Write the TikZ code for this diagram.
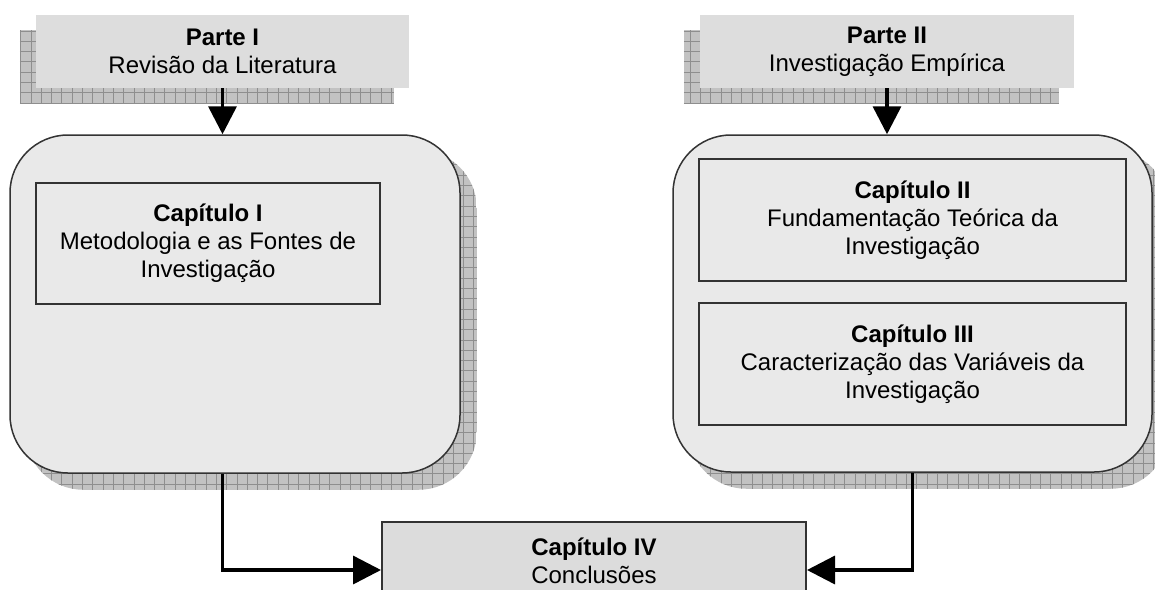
\documentclass[tikz,border=0pt]{standalone}
\usepackage{fontspec}
\setmainfont{Liberation Sans}
\usepackage{tikz}
\usetikzlibrary{arrows.meta, backgrounds, positioning}
\tikzset{>={Triangle[width=28pt,length=28pt]}}
\definecolor{partecor}{HTML}{DDDDDD}
\definecolor{blococor}{HTML}{E9E9E9}
\definecolor{capcor}{HTML}{DCDCDC}
\definecolor{bordacor}{HTML}{333333}
\definecolor{sombracor}{HTML}{C2C2C2}
\definecolor{gradecor}{HTML}{8E8E8E}
% sombra quadriculada: #1 raio, #2 e #3 cantos
\newcommand{\gradesombra}[3]{%
  \begin{scope}
    \path[clip, rounded corners=#1] (#2) rectangle (#3);
    \fill[sombracor] (#2) rectangle (#3);
    \draw[gradecor, line width=0.8pt, step=10.3pt] (#2) grid (#3);
  \end{scope}}

\begin{document}
\begin{tikzpicture}[x=1pt, y=-1pt, font=\fontsize{24}{28}\selectfont,
    parte/.style={fill=partecor, inner sep=0pt, align=center, minimum height=73pt},
    bloco/.style={fill=blococor, draw=bordacor, line width=1.5pt, rounded corners=58pt, inner sep=0pt},
    capitulo/.style={draw=bordacor, line width=2pt, inner sep=0pt, align=center},
    seta/.style={->, line width=3.5pt}]
    \path[use as bounding box, clip] (0,0) rectangle (1155,589);

    \node (parteI) at (222.5,51.5) [parte, minimum width=373pt]{\textbf{Parte I}\\Revisão da Literatura};
    \node (parteII) at (887,51.5) [parte, minimum width=374pt]{\textbf{Parte II}\\Investigação Empírica};

    \node (blocoI) at (235,304) [bloco, minimum width=450pt, minimum height=338pt]{};
    \node (blocoII) at (912.5,303.5) [bloco, minimum width=479pt, minimum height=337pt]{};

    \node (capI) at (208,243.5) [capitulo, minimum width=344pt, minimum height=121pt]{\textbf{Capítulo I}\\Metodologia e as Fontes de\\Investigação};
    \node (capII) at (912.5,220) [capitulo, minimum width=427pt, minimum height=122pt]{\textbf{Capítulo II}\\Fundamentação Teórica da\\Investigação};
    \node (capIII) at (912.5,364) [capitulo, minimum width=427pt, minimum height=122pt]{\textbf{Capítulo III}\\Caracterização das Variáveis da\\Investigação};
    \node (capIV) at (594,561) [capitulo, fill=capcor, minimum width=424pt, minimum height=78pt]{\textbf{Capítulo IV}\\Conclusões};

    \draw [seta](parteI.south)--(parteI.south |- blocoI.north);
    \draw [seta](parteII.south)--(parteII.south |- blocoII.north);
    \draw [seta](parteI.south |- blocoI.south) |- ([yshift=-9pt]capIV.west);
    \draw [seta](blocoII.south) |- ([yshift=-9pt]capIV.east);

    \begin{scope}[on background layer]
      \gradesombra{0pt}{[xshift=-16pt,yshift=-15pt]parteI.north west}{[xshift=-15pt,yshift=-15pt]parteI.south east}
      \gradesombra{0pt}{[xshift=-16pt,yshift=-15pt]parteII.north west}{[xshift=-15pt,yshift=-15pt]parteII.south east}
      \gradesombra{58pt}{[xshift=16pt,yshift=-16pt]blocoI.north west}{[xshift=16pt,yshift=-16pt]blocoI.south east}
      \gradesombra{58pt}{[xshift=16pt,yshift=-16pt]blocoII.north west}{[xshift=16pt,yshift=-16pt]blocoII.south east}
    \end{scope}
\end{tikzpicture}
\end{document}
